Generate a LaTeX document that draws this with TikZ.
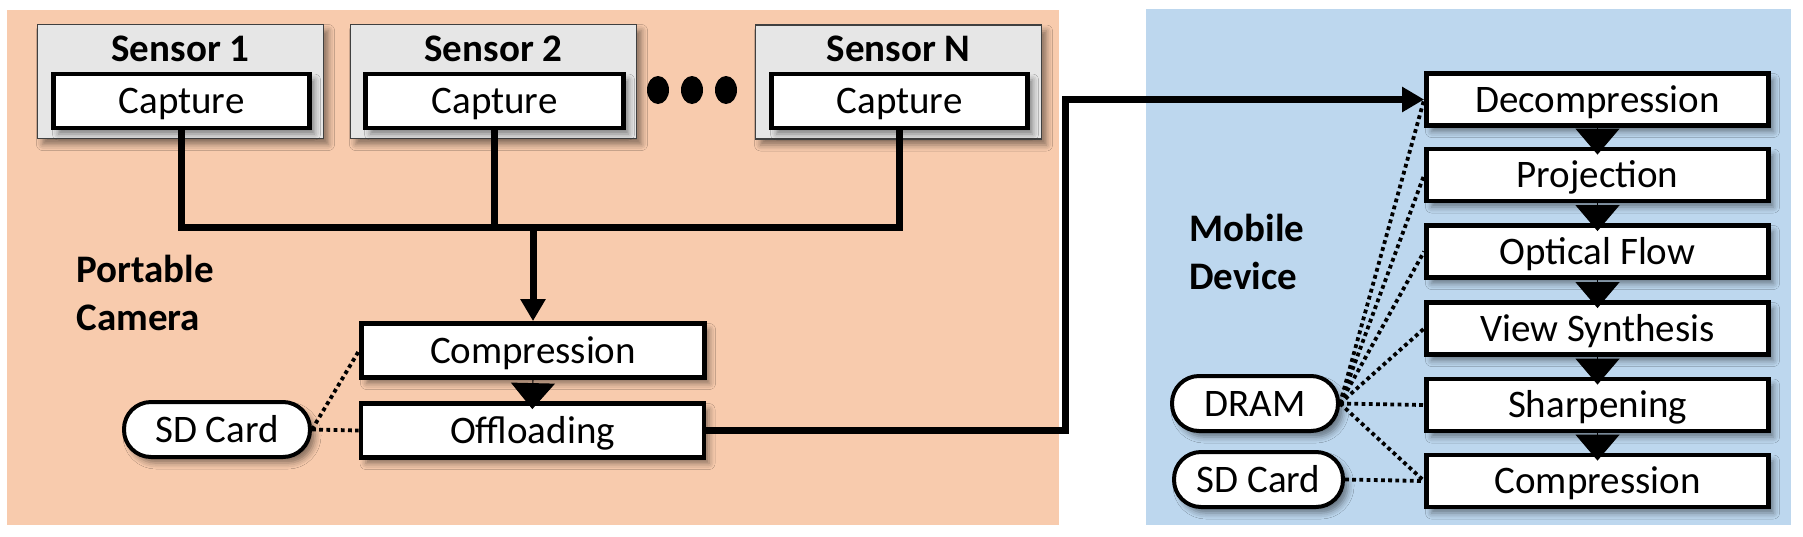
\documentclass[tikz,border=0pt]{standalone}
\usepackage{fontspec}
\setmainfont{Carlito}
\usepackage{xcolor}
\usetikzlibrary{arrows.meta,shapes,shadows.blur,positioning}

\definecolor{campeach}{HTML}{F8CBAD}
\definecolor{mobblue}{HTML}{BDD7EE}
\definecolor{sensgray}{HTML}{E6E6E6}

\begin{document}
\begin{tikzpicture}[x=0.5pt,y=-0.5pt,
    font=\fontsize{19.5}{24}\selectfont,
    shd/.style={blur shadow={shadow xshift=2.5pt,shadow yshift=-3pt,
        shadow blur radius=3pt,shadow opacity=45}},
    sensorbox/.style={draw=black!75,line width=0.6pt,fill=sensgray,shd,
        minimum width=143pt,minimum height=57pt,inner sep=0pt},
    title/.style={font=\fontsize{19.5}{24}\selectfont\bfseries,
        inner sep=0pt,text height=12.6pt,text depth=0pt},
    stage/.style={draw,line width=2.4pt,fill=white,shd,inner sep=0pt,
        text height=12.6pt,text depth=0pt,minimum height=27pt},
    memory/.style={draw,line width=2pt,fill=white,shd,inner sep=0pt,
        rounded corners=13.5pt,text height=12.6pt,text depth=0pt,
        minimum height=27.5pt},
    wire/.style={line width=3.5pt},
    flow/.style={line width=0.5pt,-{Triangle[width=22pt,length=13pt]},
        shorten >=-4pt},
    link/.style={line width=1.9pt,dash pattern=on 1.9pt off 1.7pt}]
    \useasboundingbox (0,0) rectangle (1803,536);
    % draw the two panels
    \fill[campeach] (7,10)   rectangle (1059,525);
    \fill[mobblue]  (1146,9) rectangle (1791,525);
    % sensors
    \node[sensorbox] (sen1) at (180.5,81.5) {};
    \node[sensorbox] (sen2) at (493.5,81.5) {};
    \node[sensorbox] (senN) at (898.5,82)   {};
    \node[title] (sen1lbl) at (180.5,49) {Sensor 1};
    \node[title] (sen2lbl) at (493.5,49) {Sensor 2};
    \node[title] (senNlbl) at (898.5,49) {Sensor N};
    \node[stage,minimum width=128pt] (cap1) at (181.5,101) {Capture};
    \node[stage,minimum width=129pt] (cap2) at (494.5,101) {Capture};
    \node[stage,minimum width=128pt] (capN) at (899.5,101) {Capture};
    % dots between sensors
    \fill[black] (658,90) ellipse (11 and 14);
    \fill[black] (692,90) ellipse (11 and 14);
    \fill[black] (726,90) ellipse (11 and 14);
    % camera side
    \node[title,anchor=north west,align=left,text height=] (camlbl)
        at (76,255) {Portable\\Camera};
    \node[stage,minimum width=171.5pt] (comp) at (533,350.5) {Compression};
    \node[stage,minimum width=171.5pt] (off)  at (532.5,430.5) {Offloading};
    \node[memory,minimum width=93pt] (sd1) at (217,429.5) {SD Card};
    % mobile side
    \node[title,anchor=north west,align=left,text height=] (moblbl)
        at (1189,214) {Mobile\\Device};
    \node[stage,minimum width=171pt,minimum height=26pt] (dec)   at (1597.5,99.5) {Decompression};
    \node[stage,minimum width=171pt,minimum height=26pt] (proj)  at (1597.5,175)  {Projection};
    \node[stage,minimum width=171pt,minimum height=26pt] (opt)   at (1597.5,251.5) {Optical Flow};
    \node[stage,minimum width=171pt,minimum height=26pt] (view)  at (1597.5,328.5) {View Synthesis};
    \node[stage,minimum width=171pt,minimum height=26pt] (sharp) at (1597.5,405)  {Sharpening};
    \node[stage,minimum width=171pt,minimum height=26pt] (comp2) at (1597.5,481)  {Compression};
    \node[memory,minimum width=83pt]   (dram) at (1255,403.5) {DRAM};
    \node[memory,minimum width=84.5pt] (sd2)  at (1258.5,479.5) {SD Card};
    % data path
    \coordinate (jn)   at (533,227);
    \coordinate (bend) at (1065,99.5);
    \draw[wire] (cap1.south) -- (cap1.south |- jn) -- (capN.south |- jn) -- (capN.south);
    \draw[wire] (cap2.south) -- (cap2.south |- jn);
    \draw[wire,-{Triangle[width=12pt,length=11pt]}] (jn) -- (comp.north);
    \draw[wire,-{Triangle[width=12pt,length=11pt]}] (off.east) -| (bend) -- (dec.west);
    \draw[flow] (comp.south) -- (off.north);
    \foreach \a/\b in {dec/proj,proj/opt,opt/view,view/sharp,sharp/comp2}
        \draw[flow] (\a.south) -- (\b.north);
    % memory links
    \draw[link] (sd1.east) -- (comp.west);
    \draw[link] (sd1.east) -- (off.west);
    \foreach \s in {dec,proj,opt,view,sharp,comp2}
        \draw[link] (dram.east) -- (\s.west);
    \draw[link] (sd2.east) -- (comp2.west);
\end{tikzpicture}
\end{document}
